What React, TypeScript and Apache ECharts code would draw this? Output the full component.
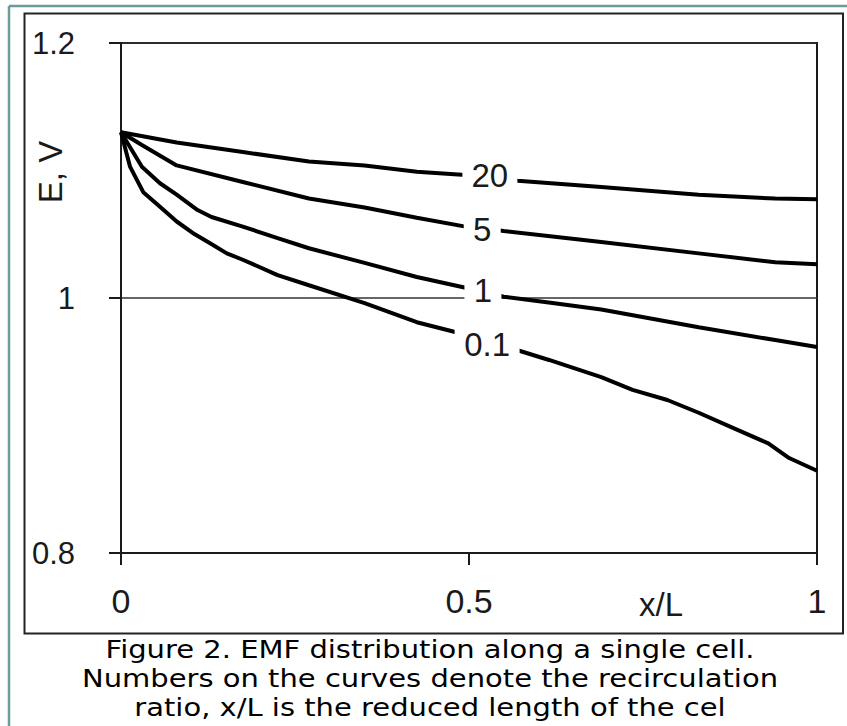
import React, { useEffect, useRef } from "react";
import * as echarts from "echarts";

// Curve data (x/L, E in V)
const x20 = [0, 0.08, 0.175, 0.27, 0.35, 0.425, 0.495, 0.57, 0.69, 0.83, 0.94, 1.0];
const e20 = [1.13, 1.122, 1.1145, 1.107, 1.104, 1.099, 1.0965, 1.092, 1.087, 1.081, 1.078, 1.0775];

const x5 = [0, 0.03, 0.08, 0.175, 0.27, 0.35, 0.425, 0.495, 0.55, 0.69, 0.83, 0.94, 1.0];
const e5 = [1.13, 1.12, 1.104, 1.091, 1.078, 1.071, 1.063, 1.056, 1.0525, 1.044, 1.035, 1.028, 1.0265];

const x1 = [0, 0.03, 0.056, 0.08, 0.11, 0.13, 0.175, 0.225, 0.27, 0.35, 0.425, 0.495, 0.55, 0.62, 0.69, 0.83, 0.94, 1.0];
const e1 = [1.13, 1.103, 1.09, 1.081, 1.069, 1.0635, 1.056, 1.047, 1.039, 1.0275, 1.0165, 1.008, 1.001, 0.996, 0.991, 0.977, 0.967, 0.9615];

const x01 = [0, 0.013, 0.023, 0.032, 0.056, 0.08, 0.103, 0.128, 0.152, 0.175, 0.225, 0.27, 0.35, 0.425, 0.48, 0.57, 0.615, 0.69, 0.735, 0.785, 0.83, 0.88, 0.93, 0.96, 1.0];
const e01 = [1.13, 1.103, 1.0925, 1.083, 1.0715, 1.06, 1.051, 1.043, 1.035, 1.03, 1.018, 1.01, 0.996, 0.981, 0.9733, 0.959, 0.9514, 0.938, 0.928, 0.92, 0.91, 0.898, 0.886, 0.8745, 0.8645];

// Curve annotations: recirculation ratio labels
const curveNames = ["20", "5", "1", "0.1"];
const labelX = [0.53, 0.519, 0.52, 0.526];
const labelY = [1.0957, 1.0541, 1.0055, 0.9639];
const labelBoxW = [55, 37, 37, 65];

// Axis ticks
const xTicks = [0, 0.5, 1];
const yTicks = [0.8, 1, 1.2];

const captionLines = [
  "Figure 2. EMF distribution along a single cell.",
  "Numbers on the curves denote the recirculation",
  "ratio, x/L is the reduced length of the cel",
];

const AXIS_FONT = "'Liberation Sans', Arial, sans-serif";
const INK = "#1a1a1a";

function zip(xs: number[], ys: number[]) {
  return xs.map((x, i) => [x, ys[i]]);
}

export default function App() {
  const ref = useRef<HTMLDivElement>(null);

  useEffect(() => {
    if (!ref.current) return;
    const chart = echarts.init(ref.current, undefined, { renderer: "svg" });

    const curves = [
      { name: curveNames[0], data: zip(x20, e20) },
      { name: curveNames[1], data: zip(x5, e5) },
      { name: curveNames[2], data: zip(x1, e1) },
      { name: curveNames[3], data: zip(x01, e01) },
    ];

    const option: any = {
      animation: false,
      backgroundColor: "#fff",
      grid: {
        left: 121,
        top: 43,
        width: 696,
        height: 510,
        show: true,
        borderColor: INK,
        borderWidth: 2,
        backgroundColor: "transparent",
      },
      xAxis: {
        type: "value",
        min: xTicks[0],
        max: xTicks[xTicks.length - 1],
        interval: 0.5,
        axisLine: { lineStyle: { color: INK, width: 2 } },
        axisTick: { show: true, length: 12, inside: false, lineStyle: { color: INK, width: 2 } },
        axisLabel: {
          fontSize: 34,
          fontFamily: AXIS_FONT,
          color: INK,
          margin: 31,
          formatter: (v: number) => String(Math.round(v * 10) / 10),
        },
        splitLine: { show: false },
      },
      yAxis: {
        type: "value",
        min: yTicks[0],
        max: yTicks[yTicks.length - 1],
        interval: 0.2,
        axisLine: { lineStyle: { color: INK, width: 2 } },
        axisTick: { show: true, length: 12, inside: false, lineStyle: { color: INK, width: 2 } },
        axisLabel: {
          fontSize: 31,
          fontFamily: AXIS_FONT,
          color: INK,
          margin: 46,
          formatter: (v: number) => String(Math.round(v * 10) / 10),
        },
        splitLine: { show: true, lineStyle: { color: "#333", width: 1.5 } },
      },
      series: [
        ...curves.map((c) => ({
          type: "line",
          name: c.name,
          data: c.data,
          symbol: "none",
          smooth: false,
          z: 3,
          lineStyle: { color: "#000", width: 4 },
        })),
        {
          type: "scatter",
          z: 5,
          symbol: "rect",
          itemStyle: { color: "#fff", opacity: 1 },
          data: curveNames.map((n, i) => ({
            name: n,
            value: [labelX[i], labelY[i]],
            symbolSize: [labelBoxW[i], 30],
          })),
          label: {
            show: true,
            position: "inside",
            formatter: (p: any) => p.name,
            fontSize: 33,
            fontFamily: AXIS_FONT,
            color: INK,
          },
          emphasis: { disabled: true },
        },
      ],
      graphic: [
        // teal outer frame (top and left)
        { type: "line", shape: { x1: 9, y1: 6, x2: 847, y2: 6 }, style: { stroke: "#6a9c9c", lineWidth: 2.5 } },
        { type: "line", shape: { x1: 9, y1: 6, x2: 9, y2: 726 }, style: { stroke: "#6a9c9c", lineWidth: 2.5 } },
        // black box around chart
        {
          type: "rect",
          shape: { x: 24.5, y: 13.5, width: 818.5, height: 620 },
          style: { fill: "none", stroke: "#222", lineWidth: 2 },
        },
        {
          type: "text",
          x: 50,
          y: 172,
          rotation: Math.PI / 2,
          style: {
            text: "E, V",
            fontSize: 33,
            fontFamily: AXIS_FONT,
            fill: INK,
            align: "center",
            verticalAlign: "middle",
            textAlign: "center",
            textVerticalAlign: "middle",
          },
        },
        {
          type: "text",
          x: 661,
          y: 604,
          style: {
            text: "x/L",
            fontSize: 33,
            fontFamily: AXIS_FONT,
            fill: INK,
            align: "center",
            verticalAlign: "middle",
            textAlign: "center",
            textVerticalAlign: "middle",
          },
        },
        {
          type: "text",
          x: 430,
          y: 635,
          scaleX: 1.16,
          style: {
            text: captionLines.join("\n"),
            fontSize: 25,
            lineHeight: 29,
            fontFamily: "'DejaVu Sans', Verdana, sans-serif",
            fill: "#000",
            align: "center",
            verticalAlign: "top",
            textAlign: "center",
            textVerticalAlign: "top",
          },
        },
      ],
    };

    chart.setOption(option);
    return () => chart.dispose();
  }, []);

  return (
    <div
      ref={ref}
      style={{ position: "absolute", left: 0, top: 0, width: 847, height: 726, background: "#fff" }}
    />
  );
}
